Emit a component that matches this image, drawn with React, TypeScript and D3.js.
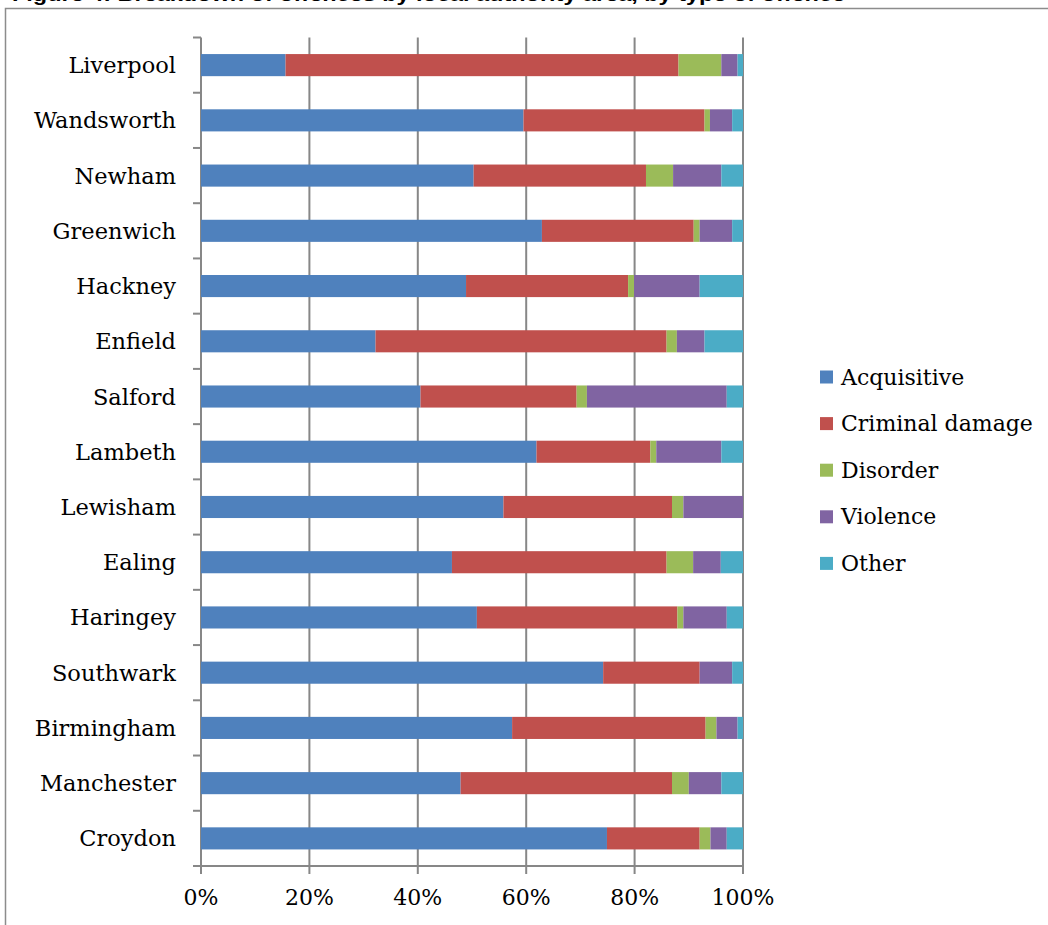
import React from "react";
import * as d3 from "d3";

const categories = [
  "Liverpool", "Wandsworth", "Newham", "Greenwich", "Hackney", "Enfield", "Salford",
  "Lambeth", "Lewisham", "Ealing", "Haringey", "Southwark", "Birmingham", "Manchester", "Croydon",
];
const seriesNames = ["Acquisitive", "Criminal damage", "Disorder", "Violence", "Other"];
const acquisitive = [15.6, 59.5, 50.3, 62.9, 48.9, 32.2, 40.5, 61.9, 55.8, 46.3, 50.9, 74.2, 57.4, 47.9, 74.9];
const criminalDamage = [72.5, 33.4, 31.8, 28.0, 29.9, 53.7, 28.8, 21.0, 31.1, 39.6, 37.0, 17.8, 35.7, 39.0, 17.1];
const disorder = [7.9, 1.0, 5.0, 1.1, 1.1, 1.9, 1.9, 1.1, 2.1, 4.9, 1.1, 0.0, 2.0, 3.1, 2.0];
const violence = [3.0, 4.1, 8.9, 6.0, 12.1, 5.1, 25.8, 12.0, 11.0, 5.1, 8.0, 6.0, 3.9, 6.0, 3.0];
const other = [1.0, 2.0, 4.0, 2.0, 8.0, 7.1, 3.0, 4.0, 0.0, 4.1, 3.0, 2.0, 1.0, 4.0, 3.0];
const xTicks = [0, 0.2, 0.4, 0.6, 0.8, 1.0];
const colors = ["#4F81BD", "#C0504D", "#9BBB59", "#8064A2", "#4BACC6"];
const title = "Figure 4: Breakdown of offences by local authority area, by type of offence";

export default function App() {
  const W = 1048, H = 925;
  const left = 201, right = 743, top = 37.5, bottom = 866;
  const series = [acquisitive, criminalDamage, disorder, violence, other];
  const rows = categories.map((c, i) => {
    const o: any = { cat: c };
    const total = series.reduce((s, arr) => s + arr[i], 0);
    seriesNames.forEach((n, k) => (o[n] = series[k][i] / total));
    return o;
  });
  const stacked = d3.stack<any>().keys(seriesNames)(rows);
  const x = d3.scaleLinear().domain([0, 1]).range([left, right]);
  const y = d3.scaleBand<string>().domain(categories).range([top, bottom]).paddingInner(0.6).paddingOuter(0.3);
  const step = y.step();
  const boundaries = d3.range(categories.length + 1).map((i) => top + i * step);
  const grid = "#878787";
  const font = "'DejaVu Serif', serif";
  const fmt = d3.format(".0%");

  return (
    <svg width={W} height={H} style={{ position: "absolute", left: 0, top: 0, background: "#fff" }}>
      <text x={12} y={1} fontFamily="'Liberation Sans', Arial, sans-serif" fontWeight="bold" fontSize={19}
        textLength={833} lengthAdjust="spacingAndGlyphs" fill="#000">{title}</text>
      <path d={`M5.5,${H} V8.5 H${W}`} fill="none" stroke="#8c8c8c" strokeWidth={1.5} />
      {xTicks.map((t) => (
        <line key={"g" + t} x1={x(t)} x2={x(t)} y1={top} y2={bottom + 8} stroke={grid} strokeWidth={2} />
      ))}
      {boundaries.map((b, i) => (
        <line key={"yt" + i} x1={left - 8} x2={left} y1={b} y2={b} stroke={grid} strokeWidth={2} />
      ))}
      <line x1={left - 8} x2={right} y1={bottom} y2={bottom} stroke={grid} strokeWidth={2} />
      {stacked.map((s, k) => (
        <g key={s.key} fill={colors[k]}>
          {s.map((d, i) => (
            <rect key={i} x={x(d[0])} width={Math.max(0, x(d[1]) - x(d[0]))} y={y(categories[i])!} height={y.bandwidth()} />
          ))}
        </g>
      ))}
      {categories.map((c) => (
        <text key={c} x={176} y={y(c)! + y.bandwidth() / 2} textAnchor="end" dominantBaseline="central"
          fontFamily={font} fontSize={22.5} fill="#000">{c}</text>
      ))}
      {xTicks.map((t) => (
        <text key={"l" + t} x={x(t)} y={905} textAnchor="middle" fontFamily={font} fontSize={22} fill="#000">{fmt(t)}</text>
      ))}
      {seriesNames.map((n, k) => (
        <g key={n} transform={`translate(820,${377 + k * 46.6})`}>
          <rect x={0} y={-6.5} width={13} height={13} fill={colors[k]} />
          <text x={21} y={0} dominantBaseline="central" fontFamily={font} fontSize={22} fill="#000">{n}</text>
        </g>
      ))}
    </svg>
  );
}
